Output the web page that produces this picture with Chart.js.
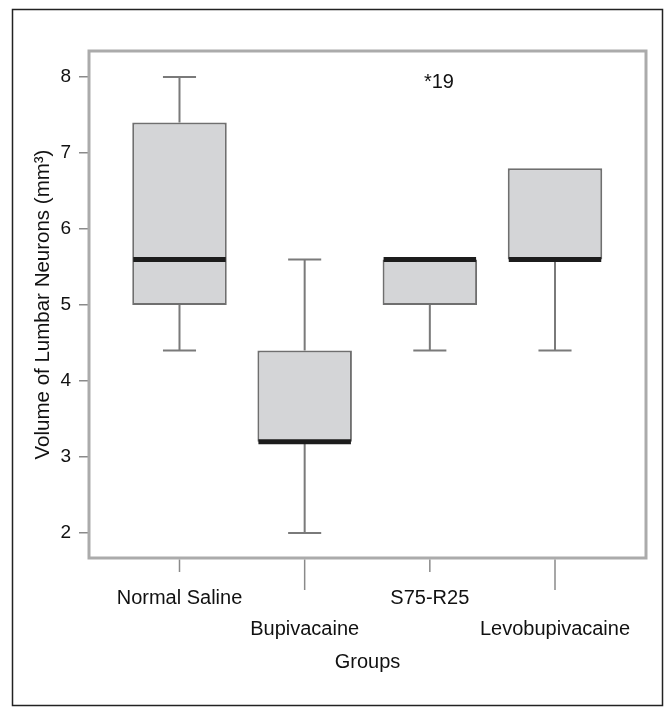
<!DOCTYPE html>
<html>
<head>
<meta charset="utf-8">
<script src="https://cdn.jsdelivr.net/npm/chart.js@4.4.1/dist/chart.umd.min.js"></script>
<style>
  html, body { margin: 0; padding: 0; background: #fff; }
</style>
</head>
<body>
<canvas id="boxplot" width="670" height="712"></canvas>
<script>
// Values (mm³)
const groups = ['Normal Saline', 'Bupivacaine', 'S75-R25', 'Levobupivacaine'];
const whiskerLow = [4.4, 2.0, 4.4, 4.4];
const quartile1 = [5.0, 3.2, 5.0, 5.6];
const medians = [5.6, 3.2, 5.6, 5.6];
const quartile3 = [7.4, 4.4, 5.6, 6.8];
const whiskerHigh = [8.0, 5.6, 5.6, 6.8];
const outlierValues = [null, null, 7.93, null];
const outlierLabels = ['', '', '19', ''];
const yTickValues = [2, 3, 4, 5, 6, 7, 8];

const FONT = '"Liberation Sans", Arial, sans-serif';

// whiskers, medians, outlier, frames
const boxPlugin = {
  id: 'boxExtras',
  beforeDatasetsDraw(chart) {
    const { ctx, scales: { x, y } } = chart;
    const bars = chart.getDatasetMeta(0).data;
    ctx.save();
    ctx.strokeStyle = '#7a7a7a';
    ctx.lineWidth = 2;
    groups.forEach((g, i) => {
      const px = x.getPixelForValue(i);
      const capHalf = bars[i].width * 0.175;
      const pairs = [[quartile3[i], whiskerHigh[i]], [quartile1[i], whiskerLow[i]]];
      pairs.forEach(([from, to]) => {
        if (from === to) return;
        ctx.beginPath();
        ctx.moveTo(px, y.getPixelForValue(from));
        ctx.lineTo(px, y.getPixelForValue(to));
        ctx.moveTo(px - capHalf, y.getPixelForValue(to));
        ctx.lineTo(px + capHalf, y.getPixelForValue(to));
        ctx.stroke();
      });
    });
    ctx.restore();
  },
  afterDatasetsDraw(chart) {
    const { ctx, chartArea, scales: { x, y } } = chart;
    const bars = chart.getDatasetMeta(0).data;
    ctx.save();
    // medians
    ctx.strokeStyle = '#1c1c1c';
    ctx.lineWidth = 5;
    groups.forEach((g, i) => {
      const half = bars[i].width / 2 - 1;
      const py = y.getPixelForValue(medians[i]);
      ctx.beginPath();
      ctx.moveTo(bars[i].x - half, py);
      ctx.lineTo(bars[i].x + half, py);
      ctx.stroke();
    });
    // outlier
    ctx.fillStyle = '#111';
    ctx.font = '20px ' + FONT;
    ctx.textBaseline = 'middle';
    outlierValues.forEach((v, i) => {
      if (v === null) return;
      const px = x.getPixelForValue(i);
      const py = y.getPixelForValue(v);
      const starW = ctx.measureText('*').width;
      ctx.textAlign = 'center';
      ctx.fillText('*', px - 2, py);
      ctx.textAlign = 'left';
      ctx.fillText(outlierLabels[i], px - 2 + starW / 2, py);
    });
    // plot frame
    ctx.strokeStyle = '#ababab';
    ctx.lineWidth = 3;
    ctx.strokeRect(chartArea.left, chartArea.top, chartArea.right - chartArea.left, chartArea.bottom - chartArea.top);
    // x tick marks, long ones for the staggered labels
    ctx.strokeStyle = '#8a8a8a';
    ctx.lineWidth = 1.5;
    x.ticks.forEach(t => {
      const px = x.getPixelForValue(t.value);
      const len = t.value % 2 === 1 ? 32 : 14;
      ctx.beginPath();
      ctx.moveTo(px, chartArea.bottom + 1.5);
      ctx.lineTo(px, chartArea.bottom + len);
      ctx.stroke();
    });
    ctx.restore();
  },
  afterDraw(chart) {
    const { ctx } = chart;
    ctx.save();
    ctx.strokeStyle = '#222';
    ctx.lineWidth = 1.5;
    ctx.strokeRect(12.5, 9.5, 650, 696);
    ctx.restore();
  }
};

new Chart(document.getElementById('boxplot'), {
  type: 'bar',
  data: {
    datasets: [{
      data: groups.map((g, i) => ({ x: i, y: [quartile1[i], quartile3[i]] })),
      backgroundColor: '#d4d5d7',
      borderColor: '#6f6f6f',
      borderWidth: 2,
      borderSkipped: false,
      barPercentage: 0.755,
      categoryPercentage: 1
    }]
  },
  options: {
    responsive: false,
    animation: false,
    layout: { padding: { top: 51, right: 24, left: 0, bottom: 0 } },
    plugins: { legend: { display: false }, tooltip: { enabled: false } },
    scales: {
      x: {
        type: 'linear',
        offset: false,
        min: -0.723,
        max: 3.727,
        afterFit: scale => { scale.height = 154; },
        afterBuildTicks: scale => { scale.ticks = groups.map((g, i) => ({ value: i })); },
        grid: { display: false, drawTicks: false, offset: false },
        border: { display: false },
        ticks: {
          padding: 25,
          color: '#111',
          font: { family: FONT, size: 20, lineHeight: 1.55 },
          maxRotation: 0,
          autoSkip: false,
          callback: v => (v % 2 === 1 ? ['', groups[v]] : groups[v])
        },
        title: {
          display: true,
          text: 'Groups',
          color: '#111',
          font: { family: FONT, size: 20 },
          padding: { top: 0, bottom: 38 }
        }
      },
      y: {
        min: 1.671,
        max: 8.342,
        afterFit: scale => { scale.width = 89; },
        afterBuildTicks: scale => { scale.ticks = yTickValues.map(v => ({ value: v })); },
        grid: { drawOnChartArea: false, tickLength: 10, color: '#8a8a8a', lineWidth: 1.5 },
        border: { display: false },
        ticks: {
          padding: 8,
          color: '#111',
          font: { family: FONT, size: 19 }
        },
        title: {
          display: true,
          text: 'Volume of Lumbar Neurons (mm³)',
          color: '#111',
          font: { family: FONT, size: 20.5 },
          padding: { top: 31, bottom: 0 }
        }
      }
    }
  },
  plugins: [boxPlugin]
});
</script>
</body>
</html>
